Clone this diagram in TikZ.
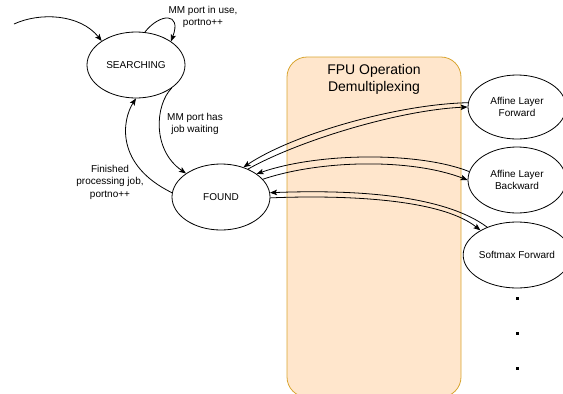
\documentclass[tikz,border=0pt]{standalone}
\usepackage{fontspec}
\setmainfont{Liberation Sans}
\usetikzlibrary{shapes.geometric,arrows.meta}
\definecolor{boxfill}{HTML}{FFE6CC}
\definecolor{boxline}{HTML}{D9A530}
\tikzset{
  state/.style={ellipse, draw, line width=0.8pt, minimum width=98pt,
    minimum height=66pt, inner sep=0pt, align=center,
    font=\fontsize{10}{12}\selectfont},
  opstate/.style={state, minimum height=64pt},
  lbl/.style={align=center, inner sep=0pt, font=\fontsize{10}{12.5}\selectfont},
  arr/.style={draw, line width=0.8pt,
    -{Stealth[length=7pt,width=5.5pt,inset=1.5pt]}},
  dotmark/.style={fill=black, inner sep=0pt, minimum size=3pt, draw=none}
}
\begin{document}
\begin{tikzpicture}[x=1pt, y=-1pt]
\useasboundingbox (0,0) rectangle (563,394);

% demultiplexing stage
\node[draw=boxline, fill=boxfill, line width=0.8pt, rounded corners=20pt,
  minimum width=174pt, minimum height=340pt, inner sep=0pt] (demux) at (374,227) {};
\node[align=center, font=\fontsize{14}{17}\selectfont] (demuxtitle) at (374,79)
  {FPU Operation\\Demultiplexing};

% states
\node[state] (search) at (136,65) {SEARCHING};
\node[state] (found) at (221,197) {FOUND};

% FPU operations
\node[opstate] (afff) at (517,107) {Affine Layer\\Forward};
\node[opstate, minimum height=66pt] (affb) at (517,180) {Affine Layer\\Backward};
\node[opstate, minimum height=66pt] (soft) at (517,255) {Softmax Forward};

\node[dotmark] (dota) at (517,298) {};
\node[dotmark] (dotb) at (517,333) {};
\node[dotmark] (dotc) at (517,368) {};

% entry
\coordinate (entry) at (14,24);
\draw[arr] (entry) .. controls (40,12) and (80,14) .. (search.145);

% state transitions
\draw[arr] (search.75) .. controls (160,13) and (182,12) .. (search.34);
\node[lbl] (loopl) at (203,17) {MM port in use,\\portno++};

\draw[arr] (search.-33) .. controls (155,105) and (152,150) .. (found.146);
\node[lbl] (waitl) at (195,124) {MM port has\\job waiting};

\draw[arr] (found.175) .. controls (115,165) and (122,120) .. (search.270);
\node[lbl] (donel) at (110,182) {Finished\\processing job,\\portno++};

% dispatch and return paths
\draw[arr] (found.46) .. controls (300,140) and (400,110) .. (afff.180);
\draw[arr] (afff.175) .. controls (400,104) and (295,133) .. (found.53);

\draw[arr] (found.23) .. controls (320,160) and (410,158) .. (affb.180);
\draw[arr] (affb.170) .. controls (420,152) and (320,152) .. (found.33);

\draw[arr] (found.-1) .. controls (340,195) and (440,198) .. (soft.146);
\draw[arr] (soft.137) .. controls (440,192) and (340,190) .. (found.5);
\end{tikzpicture}
\end{document}
